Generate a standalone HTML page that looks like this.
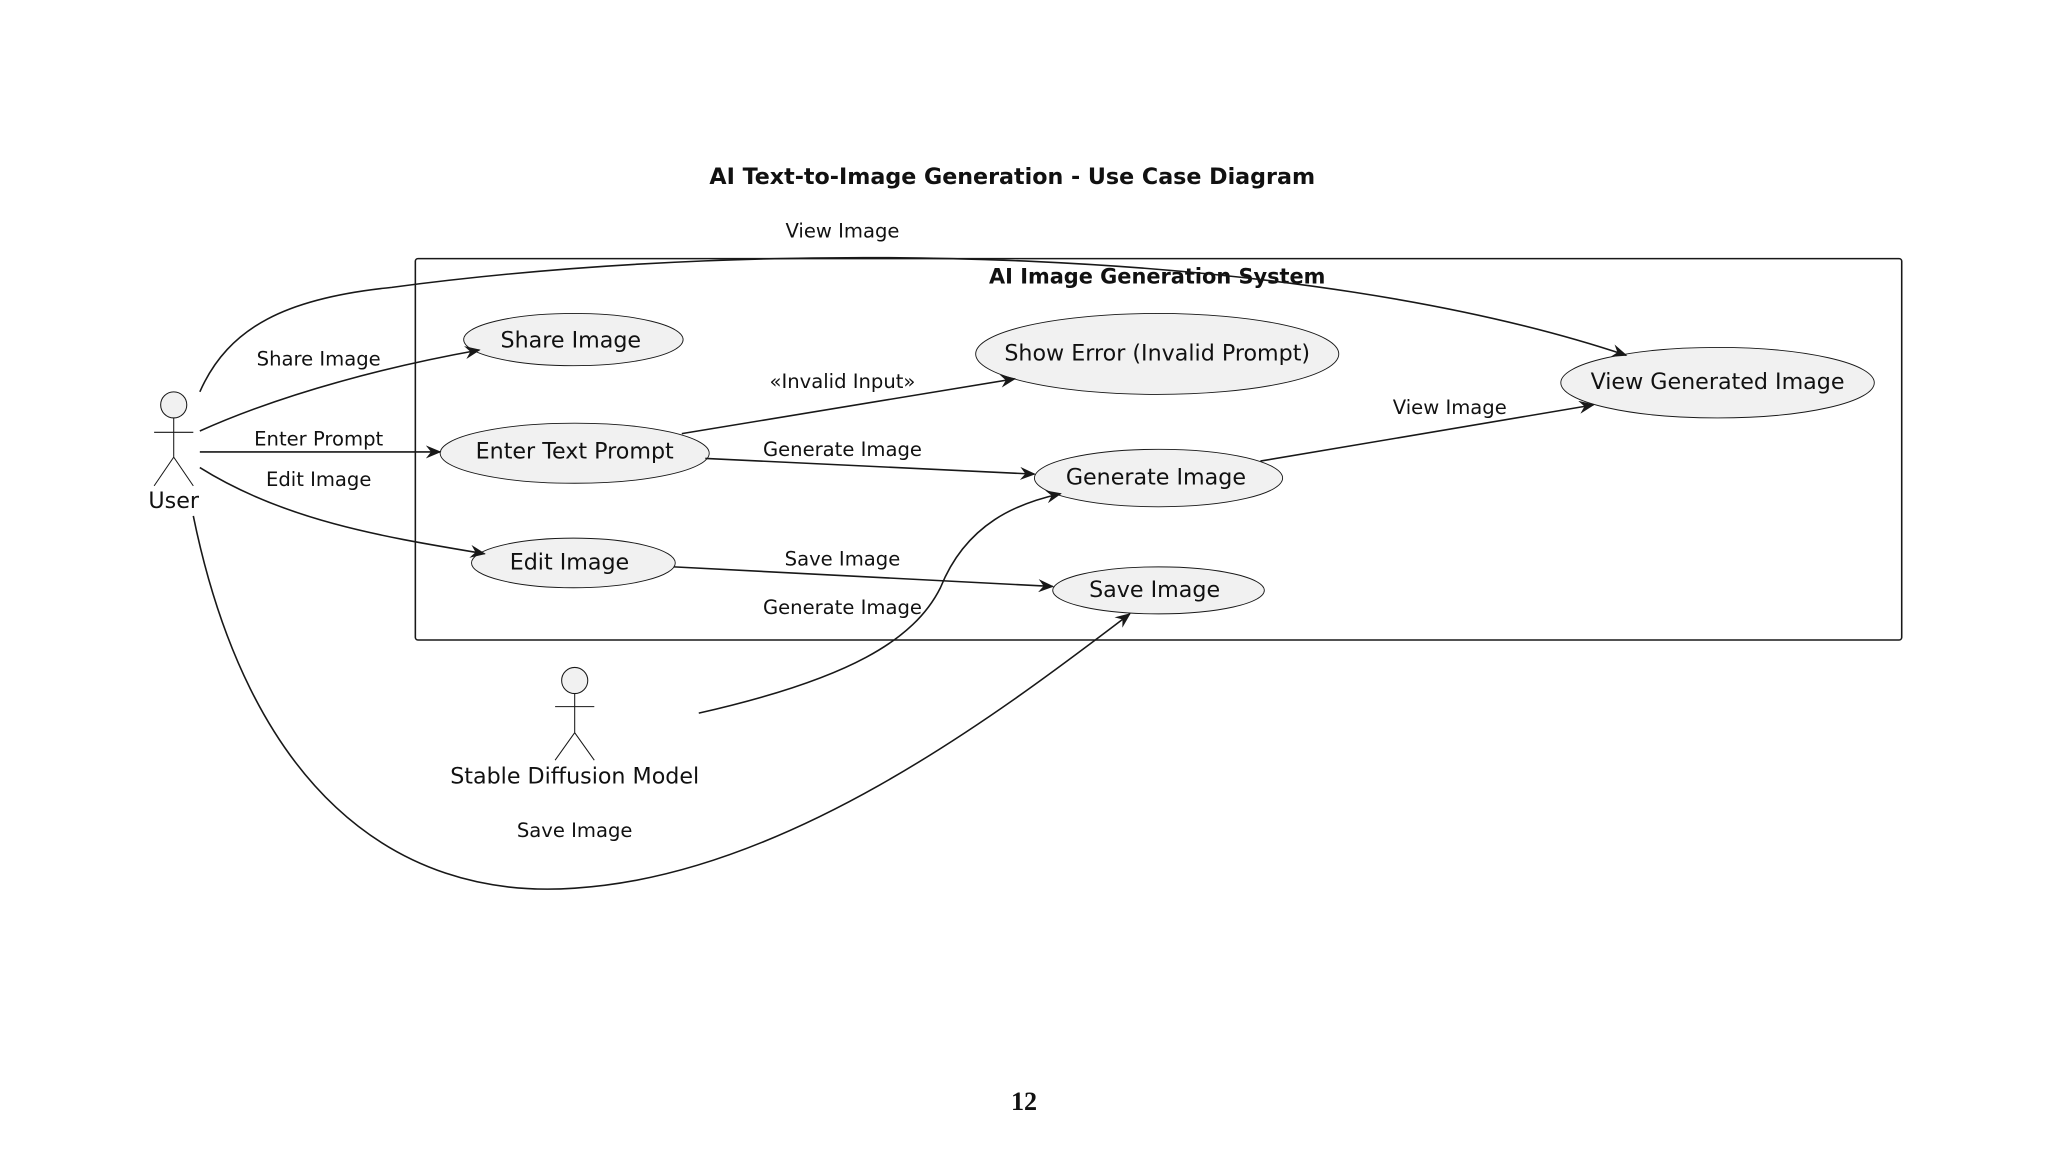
<!DOCTYPE html>
<html><head><meta charset="utf-8"><style>
html,body{margin:0;padding:0;background:#fff;}
svg{display:block;}
text{font-family:"DejaVu Sans","Liberation Sans",sans-serif;fill:#111;}
</style></head><body>
<svg width="2048" height="1152" viewBox="0 0 1568 882" xmlns="http://www.w3.org/2000/svg">
<defs>
<marker id="a" viewBox="0 0 12 10" refX="11" refY="5" markerWidth="12" markerHeight="10" markerUnits="userSpaceOnUse" orient="auto">
<path d="M0,0 L12,5 L0,10 L4,5 Z" fill="#181818"/>
</marker>
</defs>
<rect width="1568" height="882" fill="#fff"/>
<text x="775" y="141" text-anchor="middle" font-size="17" font-weight="bold">AI Text-to-Image Generation - Use Case Diagram</text>
<rect x="318" y="198" width="1138" height="292" rx="2" fill="none" stroke="#181818" stroke-width="1.2"/>
<text x="886" y="217" text-anchor="middle" font-size="16" font-weight="bold">AI Image Generation System</text>

<g fill="#f1f1f1" stroke="#181818" stroke-width="0.7">
<ellipse cx="439" cy="260" rx="84" ry="20"/>
<ellipse cx="886" cy="271" rx="139" ry="31"/>
<ellipse cx="1315" cy="293" rx="120" ry="27"/>
<ellipse cx="440" cy="347" rx="103" ry="23"/>
<ellipse cx="887" cy="366" rx="95" ry="22"/>
<ellipse cx="439" cy="431" rx="78" ry="19"/>
<ellipse cx="887" cy="452" rx="81" ry="18"/>
</g>
<g font-size="17" text-anchor="middle">
<text x="437" y="266">Share Image</text>
<text x="886" y="276">Show Error (Invalid Prompt)</text>
<text x="1315" y="298">View Generated Image</text>
<text x="440" y="351">Enter Text Prompt</text>
<text x="885" y="371">Generate Image</text>
<text x="436" y="436">Edit Image</text>
<text x="884" y="457">Save Image</text>
</g>

<g fill="none" stroke="#181818" stroke-width="1.2">
<circle cx="133" cy="310" r="10" fill="#f1f1f1" stroke-width="0.8"/>
<path d="M133,320 V350 M118,331 H148 M133,350 L118,372 M133,350 L148,372" stroke-width="0.8"/>
<circle cx="440" cy="521" r="10" fill="#f1f1f1" stroke-width="0.8"/>
<path d="M440,531 V561 M425,541 H455 M440,561 L425,582 M440,561 L455,582" stroke-width="0.8"/>

<path d="M153,300 C175,250 220,228 300,220 C600,180 1000,190 1245,272" marker-end="url(#a)"/>
<path d="M153,330 C220,300 300,280 367,268" marker-end="url(#a)"/>
<path d="M153,346 L337,346" marker-end="url(#a)"/>
<path d="M153,358 C220,400 300,412 371,424" marker-end="url(#a)"/>
<path d="M148,395 C190,600 300,690 440,680 C600,670 760,550 865,470" marker-end="url(#a)"/>
<path d="M522,332 L777,290" marker-end="url(#a)"/>
<path d="M540,351 L792,363" marker-end="url(#a)"/>
<path d="M965,353 L1220,310" marker-end="url(#a)"/>
<path d="M516,434 L806,449" marker-end="url(#a)"/>
<path d="M535,546 C650,520 700,490 720,450 C740,400 780,385 812,378" marker-end="url(#a)"/>
</g>

<g font-size="15" text-anchor="middle">
<text x="133" y="389" font-size="17">User</text>
<text x="440" y="600" font-size="17">Stable Diffusion Model</text>
<text x="645" y="182">View Image</text>
<text x="244" y="280">Share Image</text>
<text x="244" y="341">Enter Prompt</text>
<text x="244" y="372">Edit Image</text>
<text x="440" y="641">Save Image</text>
<text x="645" y="297">«Invalid Input»</text>
<text x="645" y="349">Generate Image</text>
<text x="1110" y="317">View Image</text>
<text x="645" y="433">Save Image</text>
<text x="645" y="470">Generate Image</text>
</g>
<text x="784" y="850" text-anchor="middle" font-size="20" font-weight="bold" style="font-family:'Liberation Serif',serif">12</text>
</svg>
</body></html>
